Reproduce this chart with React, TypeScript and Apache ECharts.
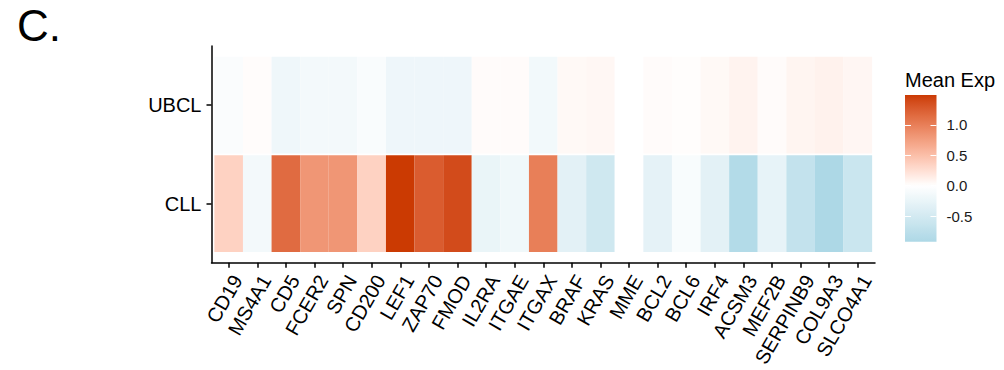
import React, { useEffect, useRef } from "react";
import * as echarts from "echarts";

// Genes along the x axis, left to right
const genes = [
  "CD19", "MS4A1", "CD5", "FCER2", "SPN", "CD200", "LEF1", "ZAP70", "FMOD",
  "IL2RA", "ITGAE", "ITGAX", "BRAF", "KRAS", "MME", "BCL2", "BCL6", "IRF4",
  "ACSM3", "MEF2B", "SERPINB9", "COL9A3", "SLCO4A1",
];

// Row order from bottom to top
const groups = ["CLL", "UBCL"];

// Mean expression (scaled) per gene
const ubclExp = [
  -0.06, 0.02, -0.18, -0.14, -0.14, -0.07, -0.2, -0.2, -0.2,
  0.03, 0.03, -0.15, 0.05, 0.06, 0.0, 0.03, 0.015, 0.05,
  0.09, 0.03, 0.08, 0.1, 0.07,
];
const cllExp = [
  0.35, -0.14, 1.15, 0.82, 0.82, 0.35, 1.49, 1.26, 1.38,
  -0.24, -0.17, 1.0, -0.32, -0.55, 0.0, -0.3, -0.08, -0.32,
  -0.85, -0.27, -0.68, -0.92, -0.6,
];

const legendTicks = [-0.5, 0, 0.5, 1.0];

const LOW = "#ADD8E6";
const MID = "#FFFFFF";
const HIGH = "#CB3A02";

// --- colour interpolation in CIE Lab ---
type V3 = [number, number, number];
function hexToRgb(h: string): V3 {
  const n = parseInt(h.slice(1), 16);
  return [(n >> 16) & 255, (n >> 8) & 255, n & 255];
}
const toLin = (c: number) => {
  c /= 255;
  return c <= 0.04045 ? c / 12.92 : Math.pow((c + 0.055) / 1.055, 2.4);
};
const fromLin = (c: number) => {
  const v = c <= 0.0031308 ? 12.92 * c : 1.055 * Math.pow(c, 1 / 2.4) - 0.055;
  return Math.max(0, Math.min(255, Math.round(v * 255)));
};
const WP: V3 = [0.95047, 1, 1.08883];
function rgbToLab(rgb: V3): V3 {
  const [r, g, b] = rgb.map(toLin);
  const x = (0.4124 * r + 0.3576 * g + 0.1805 * b) / WP[0];
  const y = (0.2126 * r + 0.7152 * g + 0.0722 * b) / WP[1];
  const z = (0.0193 * r + 0.1192 * g + 0.9505 * b) / WP[2];
  const f = (t: number) => (t > 0.008856 ? Math.cbrt(t) : 7.787 * t + 16 / 116);
  const fx = f(x), fy = f(y), fz = f(z);
  return [116 * fy - 16, 500 * (fx - fy), 200 * (fy - fz)];
}
function labToRgb(lab: V3): string {
  const fy = (lab[0] + 16) / 116;
  const fx = fy + lab[1] / 500;
  const fz = fy - lab[2] / 200;
  const inv = (t: number) => (t * t * t > 0.008856 ? t * t * t : (t - 16 / 116) / 7.787);
  const x = inv(fx) * WP[0], y = inv(fy) * WP[1], z = inv(fz) * WP[2];
  const r = 3.2406 * x - 1.5372 * y - 0.4986 * z;
  const g = -0.9689 * x + 1.8758 * y + 0.0415 * z;
  const b = 0.0557 * x - 0.204 * y + 1.057 * z;
  return `rgb(${fromLin(r)},${fromLin(g)},${fromLin(b)})`;
}
const labLow = rgbToLab(hexToRgb(LOW));
const labMid = rgbToLab(hexToRgb(MID));
const labHigh = rgbToLab(hexToRgb(HIGH));
function mixLab(a: V3, b: V3, t: number): string {
  const tt = Math.max(0, Math.min(1, t));
  return labToRgb([0, 1, 2].map((i) => a[i] + (b[i] - a[i]) * tt) as V3);
}

const allValues = [...ubclExp, ...cllExp];
const vMin = Math.min(...allValues);
const vMax = Math.max(...allValues);

function colorFor(v: number): string {
  return v >= 0 ? mixLab(labMid, labHigh, v / vMax) : mixLab(labMid, labLow, v / vMin);
}

const FONT = "Liberation Sans, Arial, Helvetica, sans-serif";

export default function App() {
  const ref = useRef<HTMLDivElement>(null);

  useEffect(() => {
    if (!ref.current) return;
    const chart = echarts.init(ref.current, null, { renderer: "svg" });

    const cells: number[][] = [];
    genes.forEach((_, i) => {
      cells.push([i, 0, cllExp[i]]);
      cells.push([i, 1, ubclExp[i]]);
    });

    const nStops = 48;
    const stops = Array.from({ length: nStops + 1 }, (_, k) => {
      const f = k / nStops;
      return { offset: f, color: colorFor(vMax - f * (vMax - vMin)) };
    });

    const geneIdx = genes.map((_, i) => i);
    const groupIdx = groups.map((_, i) => i);
    const axisBlack = { color: "#000", width: 1.5 };

    chart.setOption({
      animation: false,
      backgroundColor: "#fff",
      grid: [
        { left: 211.5, right: 129, top: 46, bottom: 105, containLabel: false },
        { left: 905, top: 95, width: 31.5, height: 146.7, containLabel: false },
      ],
      xAxis: [
        {
          type: "value",
          gridIndex: 0,
          min: -0.6,
          max: genes.length - 1 + 0.6,
          splitLine: { show: false },
          axisLine: { show: true, onZero: false, lineStyle: axisBlack },
          axisTick: { show: true, customValues: geneIdx, length: 5, lineStyle: axisBlack },
          axisLabel: {
            customValues: geneIdx,
            formatter: (v: number) => genes[Math.round(v)],
            rotate: 60,
            margin: 9,
            align: "right",
            verticalAlign: "top",
            color: "#000",
            fontSize: 20,
            fontFamily: FONT,
          },
        },
        { type: "value", gridIndex: 1, min: 0, max: 1, show: false },
      ],
      yAxis: [
        {
          type: "value",
          gridIndex: 0,
          min: -0.6,
          max: groups.length - 1 + 0.6,
          splitLine: { show: false },
          axisLine: { show: true, onZero: false, lineStyle: axisBlack },
          axisTick: { show: true, customValues: groupIdx, length: 5, lineStyle: axisBlack },
          axisLabel: {
            customValues: groupIdx,
            formatter: (v: number) => groups[Math.round(v)],
            margin: 10,
            color: "#000",
            fontSize: 20,
            fontFamily: FONT,
          },
        },
        {
          type: "value",
          gridIndex: 1,
          min: vMin,
          max: vMax,
          position: "right",
          z: 5,
          splitLine: { show: false },
          axisLine: { show: false, onZero: false },
          axisTick: {
            show: true,
            inside: true,
            customValues: legendTicks,
            length: 6,
            lineStyle: { color: "#fff", width: 1 },
          },
          axisLabel: {
            customValues: legendTicks,
            formatter: (v: number) => v.toFixed(1),
            margin: 10,
            color: "#1a1a1a",
            fontSize: 15,
            fontFamily: FONT,
          },
        },
        {
          type: "value",
          gridIndex: 1,
          min: vMin,
          max: vMax,
          position: "left",
          z: 5,
          splitLine: { show: false },
          axisLine: { show: false, onZero: false },
          axisTick: {
            show: true,
            inside: true,
            customValues: legendTicks,
            length: 6,
            lineStyle: { color: "#fff", width: 1 },
          },
          axisLabel: { show: false },
        },
      ],
      series: [
        {
          type: "custom",
          xAxisIndex: 0,
          yAxisIndex: 0,
          data: cells,
          encode: { x: 0, y: 1 },
          renderItem: (params: any, api: any) => {
            const x = api.value(0);
            const y = api.value(1);
            const v = api.value(2);
            const p1 = api.coord([x - 0.5, y + 0.49]);
            const p2 = api.coord([x + 0.5, y - 0.49]);
            return {
              type: "rect",
              shape: { x: p1[0], y: p1[1], width: p2[0] - p1[0], height: p2[1] - p1[1] },
              style: { fill: colorFor(v), stroke: null },
            };
          },
        },
        {
          type: "custom",
          xAxisIndex: 1,
          yAxisIndex: 1,
          z: 1,
          data: [[0, vMin, vMax]],
          renderItem: (params: any, api: any) => {
            const p1 = api.coord([0, api.value(2)]);
            const p2 = api.coord([1, api.value(1)]);
            return {
              type: "rect",
              shape: { x: p1[0], y: p1[1], width: p2[0] - p1[0], height: p2[1] - p1[1] },
              style: {
                fill: new echarts.graphic.LinearGradient(0, 0, 0, 1, stops),
                stroke: null,
              },
            };
          },
        },
      ],
      graphic: [
        {
          type: "text",
          left: 17,
          top: 3,
          style: { text: "C.", font: `44px ${FONT}`, fill: "#000" },
        },
        {
          type: "text",
          left: 905,
          top: 70,
          style: { text: "Mean Exp", font: `20px ${FONT}`, fill: "#000" },
        },
      ],
    });

    return () => chart.dispose();
  }, []);

  return (
    <div
      ref={ref}
      style={{ position: "fixed", left: 0, top: 0, width: 1004, height: 370, background: "#fff" }}
    />
  );
}
